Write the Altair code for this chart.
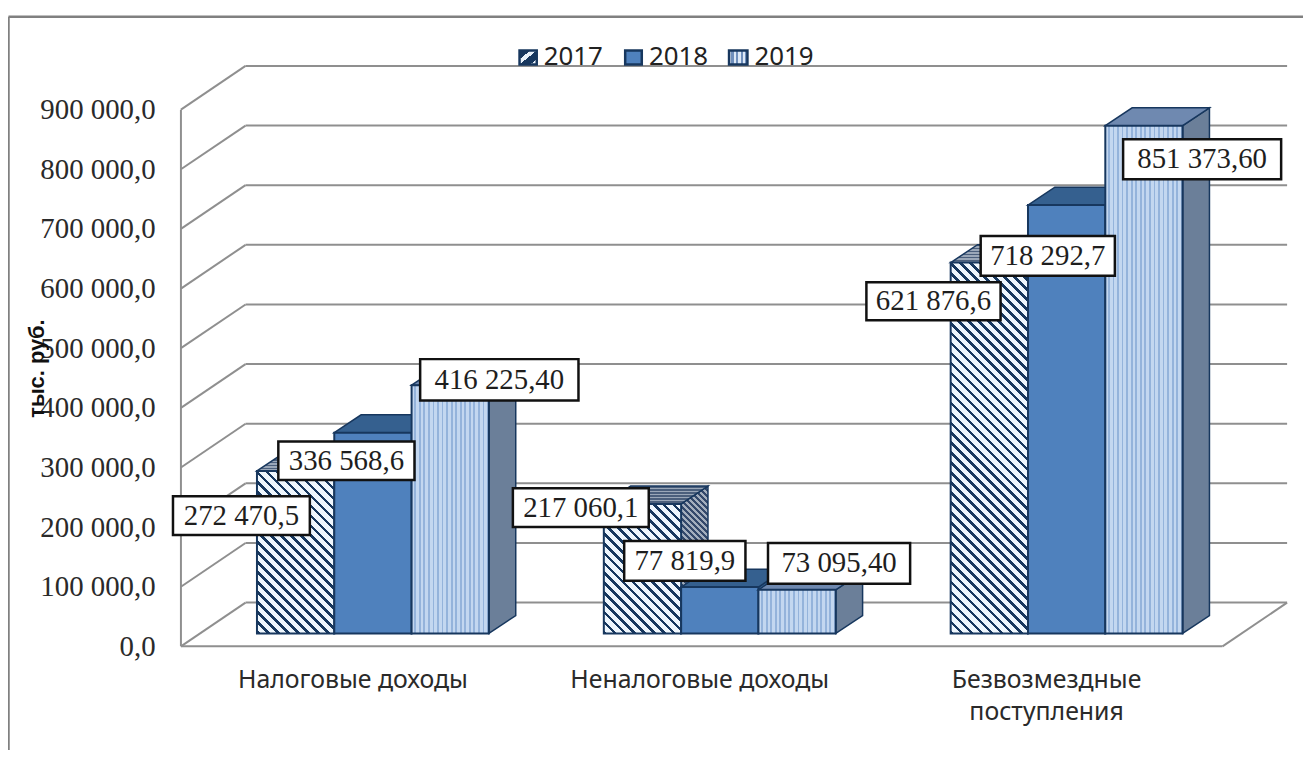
import altair as alt
import pandas as pd

categories = ["Налоговые доходы", "Неналоговые доходы", "Безвозмездные поступления"]
years = ["2017", "2018", "2019"]
v2017 = [272470.5, 217060.1, 621876.6]
v2018 = [336568.6, 77819.9, 718292.7]
v2019 = [416225.4, 73095.4, 851373.6]
label2017 = ["272 470,5", "217 060,1", "621 876,6"]
label2018 = ["336 568,6", "77 819,9", "718 292,7"]
label2019 = ["416 225,40", "73 095,40", "851 373,60"]
series = [v2017, v2018, v2019]
labels = [label2017, label2018, label2019]
y_ticks = [0, 100000, 200000, 300000, 400000, 500000, 600000, 700000, 800000, 900000]

# chart geometry (screen scale: 349 px per category, 0.6 px per 1000)
PX_BAND, PX_V = 349.0, 0.0006
L, FLOOR, R, TOP = 182.0, 648.0, 1295.0, 64.0
def X(px): return (px - L) / PX_BAND
def V(py): return (FLOOR - py) / PX_V

BAR_START, BAR_W = 0.2192, 0.2229
DEPTH_X, DEPTH_V = 27 / PX_BAND, 18 / PX_V
BASE_V = 13 / PX_V
WALL_X, WALL_V = 65 / PX_BAND, 44 / PX_V
X_MAX, V_MAX = X(R), V(TOP)

DARK = "#17375e"
GRID = "#8f8f8f"
SERIF = "Liberation Serif"
SANS = "Noto Sans"

xs = alt.Scale(domain=[0, X_MAX], nice=False, zero=False)
ys = alt.Scale(domain=[0, V_MAX], nice=False, zero=False)
y_expr = "replace(replace(format(datum.value, ',.1f'), ',', ' '), '.', ',')"
x_expr = ("datum.value < 1 ? '%s' : datum.value < 2 ? '%s' : ['Безвозмездные', 'поступления']"
          % (categories[0], categories[1]))
x_axis = alt.Axis(
    values=[0.5, 1.5, 2.5], labelExpr=x_expr, title=None, domain=False, ticks=False, grid=False,
    labelFont=SANS, labelFontSize=25, labelColor="#2a2a2a", labelPadding=21, labelOffset=-2,
    labelLineHeight=33, labelAngle=0, labelOverlap=False, labelBound=False, labelFlush=False,
    labelLimit=500)
y_axis = alt.Axis(
    values=y_ticks, labelExpr=y_expr, title="тыс. руб.", domain=False, ticks=False, grid=False,
    labelFont=SERIF, labelFontSize=29, labelColor="#2a2a2a", labelPadding=26, labelOverlap=False,
    labelLimit=300,
    titleFont="Liberation Sans", titleFontSize=22, titleFontWeight="bold", titleColor="#111111",
    titleX=37 - L, titleY=368 - TOP, titleAngle=270, titleAnchor="middle", titleAlign="center",
    titleBaseline="middle")
xe = alt.X("x:Q", scale=xs, axis=x_axis)
ye = alt.Y("y:Q", scale=ys, axis=y_axis, stack=None)


def stripes(n, a, b, x1=0.0, y1=0.0, x2=1.0, y2=0.0, share=0.5):
    stops = []
    for i in range(n):
        s, m, e = i / n, (i + share) / n, (i + 1) / n
        stops += [alt.GradientStop(offset=s, color=a), alt.GradientStop(offset=m, color=a),
                  alt.GradientStop(offset=m, color=b), alt.GradientStop(offset=e, color=b)]
    return alt.LinearGradient(gradient="linear", stops=stops, x1=x1, y1=y1, x2=x2, y2=y2)


def diag(wpx, hpx, a, b, period=10.0, share=0.36):
    k = (wpx + hpx) / (wpx ** 2 + hpx ** 2)
    return stripes(max(1, round((wpx + hpx) / period)), a, b, 0.0, 1.0, k * wpx, 1.0 - k * hpx, share)


layers = []

# walls and floor
back = pd.DataFrame({"x": [WALL_X] * len(y_ticks), "x2": [X_MAX] * len(y_ticks),
                     "y": [t + WALL_V for t in y_ticks]})
layers.append(alt.Chart(back).mark_rule(color=GRID, strokeWidth=2).encode(x=xe, x2="x2:Q", y=ye))
diag_rows = []
for t in y_ticks:
    diag_rows += [{"t": t, "x": 0.0, "y": t}, {"t": t, "x": WALL_X, "y": t + WALL_V}]
diag_rows += [{"t": -1, "x": X_MAX - WALL_X, "y": 0.0}, {"t": -1, "x": X_MAX, "y": WALL_V}]
layers.append(alt.Chart(pd.DataFrame(diag_rows)).mark_line(color=GRID, strokeWidth=2, clip=False).encode(
    x=xe, y=ye, detail="t:N"))
layers.append(alt.Chart(pd.DataFrame({"x": [0.0], "y": [0.0], "y2": [y_ticks[-1]]})).mark_rule(
    color=GRID, strokeWidth=2).encode(x=xe, y=ye, y2="y2:Q"))
layers.append(alt.Chart(pd.DataFrame({"x": [0.0], "x2": [X_MAX - WALL_X], "y": [0.0]})).mark_rule(
    color=GRID, strokeWidth=2).encode(x=xe, x2="x2:Q", y=ye))

# frame of the picture
layers.append(alt.Chart(pd.DataFrame({"a": [0]})).mark_rule(color="#808080", strokeWidth=2.5).encode(
    x=alt.value(8.5 - L), x2=alt.value(1311 - L), y=alt.value(14.5 - TOP)))
layers.append(alt.Chart(pd.DataFrame({"a": [0]})).mark_rule(color="#808080", strokeWidth=2.5).encode(
    x=alt.value(8.5 - L), y=alt.value(14.5 - TOP), y2=alt.value(758 - TOP)))

# bars
LIGHT_A, LIGHT_B = "#c3d7f0", "#94b3db"
for c in range(3):
    for s in range(3):
        val = series[s][c]
        x0 = c + BAR_START + s * BAR_W
        x1 = x0 + BAR_W
        y0, y1 = BASE_V, BASE_V + val
        wpx, hpx = BAR_W * PX_BAND, val * PX_V
        if s == 0:
            front = diag(wpx, hpx, DARK, "#eef6fd")
            top = stripes(6, "#4b5f7c", "#9aa7b8", 0, 0, 0, 1)
            side = diag(27, hpx + 18, "#34496b", "#a3aebd", period=6.0, share=0.5)
        elif s == 1:
            front, top, side = "#4f81bd", "#35608f", "#35608f"
        else:
            front = stripes(17, LIGHT_A, LIGHT_B, share=0.6)
            top, side = "#6f89b0", "#6b7f99"
        side_df = pd.DataFrame({"x": [x1, x1 + DEPTH_X], "y": [y1, y1 + DEPTH_V], "y2": [y0, y0 + DEPTH_V]})
        top_df = pd.DataFrame({"x": [x0, x0 + DEPTH_X, x1, x1 + DEPTH_X],
                               "y": [y1, y1 + DEPTH_V, y1 + DEPTH_V, y1 + DEPTH_V],
                               "y2": [y1, y1, y1, y1 + DEPTH_V]})
        front_df = pd.DataFrame({"x": [x0], "x2": [x1], "y": [y0], "y2": [y1]})
        layers.append(alt.Chart(side_df).mark_area(orient="vertical", fill=side, stroke=DARK, strokeWidth=1.5).encode(
            x=xe, y=ye, y2="y2:Q"))
        layers.append(alt.Chart(top_df).mark_area(orient="vertical", fill=top, stroke=DARK, strokeWidth=1.5).encode(
            x=xe, y=ye, y2="y2:Q"))
        layers.append(alt.Chart(front_df).mark_rect(fill=front, stroke=DARK, strokeWidth=2).encode(
            x=xe, x2="x2:Q", y=ye, y2="y2:Q"))

# value labels: boxes as (left, right, top, bottom) on the screen scale
boxes = [
    [(174, 311.7, 497, 536), (516, 652.7, 489, 528), (871.7, 1006.7, 281.7, 320)],
    [(280, 417, 442, 480.7), (628, 750, 542, 582), (986.7, 1121.7, 235, 275)],
    [(422.7, 582, 359, 400.7), (772.7, 915.7, 544, 585), (1130, 1289, 137.7, 178)],
]
rows = []
for s in range(3):
    for c in range(3):
        a, b, t, u = boxes[s][c]
        rows.append({"x": X(a), "x2": X(b), "y": V(t), "y2": V(u),
                     "tx": X((a + b) / 2), "ty": V((t + u) / 2), "label": labels[s][c]})
box_df = pd.DataFrame(rows)
layers.append(alt.Chart(box_df).mark_rect(fill="white", stroke="#111111", strokeWidth=2.5).encode(
    x=xe, x2="x2:Q", y=ye, y2="y2:Q"))
layers.append(alt.Chart(box_df).mark_text(font=SERIF, fontSize=29, color="#1e1e1e", baseline="middle", align="center").encode(
    x=alt.X("tx:Q", scale=xs, axis=x_axis), y=alt.Y("ty:Q", scale=ys, axis=y_axis), text="label:N"))

# legend
leg_sym = [(522.7, 540), (629, 645.7), (733.5, 752)]
leg_txt = [547, 653, 759]
leg_fill = [
    stripes(2, DARK, "#e8f1fa", 0, 0, 1, 1, share=0.62),
    "#4f81bd",
    stripes(4, "#dce8f6", "#6f8fbc", share=0.5),
]
for i in range(3):
    a, b = leg_sym[i]
    df = pd.DataFrame({"x": [X(a)], "x2": [X(b)], "y": [V(48.5)], "y2": [V(62.5)]})
    layers.append(alt.Chart(df).mark_rect(fill=leg_fill[i], stroke=DARK, strokeWidth=2.5).encode(
        x=xe, x2="x2:Q", y=ye, y2="y2:Q"))
leg_df = pd.DataFrame({"x": [X(p) for p in leg_txt], "y": [V(55)] * 3, "label": years})
layers.append(alt.Chart(leg_df).mark_text(font=SANS, fontSize=26, color="#222222", align="left", baseline="middle", clip=False).encode(
    x=xe, y=ye, text="label:N"))

chart = alt.layer(*layers).properties(
    width=R - L, height=FLOOR - TOP,
    autosize=alt.AutoSizeParams(type="none"),
    padding={"left": L - 8, "top": TOP - 8, "right": 1303 - (R - 8), "bottom": 742 - (FLOOR - 8)},
    background="white",
).configure_view(stroke=None)

chart.save("out.html", embed_options={"renderer": "svg", "actions": False})
